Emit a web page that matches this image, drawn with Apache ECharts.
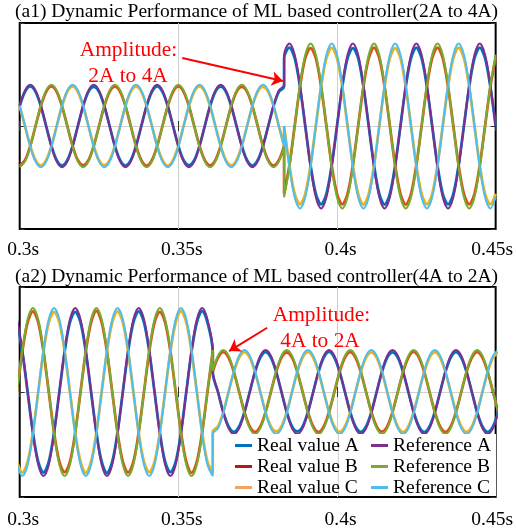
<!DOCTYPE html>
<html>
<head>
<meta charset="utf-8">
<script src="https://cdn.jsdelivr.net/npm/echarts@6/dist/echarts.min.js"></script>
<style>
html,body{margin:0;padding:0;background:#fff;}
#chart{width:516px;height:532px;}
</style>
</head>
<body>
<div id="chart"></div>
<script>
// ---------------- DATA ----------------
const xTickLabels = ['0.3s', '0.35s', '0.4s', '0.45s'];
const seriesNames = ['Real value A', 'Real value B', 'Real value C', 'Reference A', 'Reference B', 'Reference C'];

// Panel a1 (2A -> 4A): samples every 1/600 s starting at 0.3 s; step after sample 50
const topSampleStart = 0.3;
const topSampleStep = 1 / 600;
const topStepIndex = 50;

const topRefAPre = [1,1.73,2,1.73,1,0,-1,-1.73,-2,-1.73,-1,0, 1,1.73,2,1.73,1,0,-1,-1.73,-2,-1.73,-1,0, 1,1.73,2,1.73,1,0,-1,-1.73,-2,-1.73,-1,0, 1,1.73,2,1.73,1,0,-1,-1.73,-2,-1.73,-1,0, 1,1.73,2];
const topRefBPre = [-2,-1.73,-1,0,1,1.73,2,1.73,1,0,-1,-1.73, -2,-1.73,-1,0,1,1.73,2,1.73,1,0,-1,-1.73, -2,-1.73,-1,0,1,1.73,2,1.73,1,0,-1,-1.73, -2,-1.73,-1,0,1,1.73,2,1.73,1,0,-1,-1.73, -2,-1.73,-1];
const topRefCPre = [1,0,-1,-1.73,-2,-1.73,-1,0,1,1.73,2,1.73, 1,0,-1,-1.73,-2,-1.73,-1,0,1,1.73,2,1.73, 1,0,-1,-1.73,-2,-1.73,-1,0,1,1.73,2,1.73, 1,0,-1,-1.73,-2,-1.73,-1,0,1,1.73,2,1.73, 1,0,-1];
const topRefAPost = [3.46,4,3.46,2,0,-2,-3.46,-4,-3.46,-2,0,2, 3.46,4,3.46,2,0,-2,-3.46,-4,-3.46,-2,0,2, 3.46,4,3.46,2,0,-2,-3.46,-4,-3.46,-2,0,2, 3.46,4,3.46,2,0];
const topRefBPost = [-3.46,-2,0,2,3.46,4,3.46,2,0,-2,-3.46,-4, -3.46,-2,0,2,3.46,4,3.46,2,0,-2,-3.46,-4, -3.46,-2,0,2,3.46,4,3.46,2,0,-2,-3.46,-4, -3.46,-2,0,2,3.46];
const topRefCPost = [0,-2,-3.46,-4,-3.46,-2,0,2,3.46,4,3.46,2, 0,-2,-3.46,-4,-3.46,-2,0,2,3.46,4,3.46,2, 0,-2,-3.46,-4,-3.46,-2,0,2,3.46,4,3.46,2, 0,-2,-3.46,-4,-3.46];

const topRealAPre = [0.96,1.66,1.92,1.66,0.96,0,-0.96,-1.66,-1.92,-1.66,-0.96,0, 0.96,1.66,1.90,1.66,0.96,0,-0.96,-1.66,-1.92,-1.66,-0.96,0, 0.96,1.66,1.93,1.66,0.96,0,-0.96,-1.66,-1.90,-1.66,-0.96,0, 0.96,1.66,1.91,1.66,0.96,0,-0.96,-1.66,-1.92,-1.66,-0.96,0, 0.96,1.66,1.92];
const topRealBPre = [-1.92,-1.66,-0.96,0,0.96,1.66,1.92,1.66,0.96,0,-0.96,-1.66, -1.90,-1.66,-0.96,0,0.96,1.66,1.91,1.66,0.96,0,-0.96,-1.66, -1.93,-1.66,-0.96,0,0.96,1.66,1.92,1.66,0.96,0,-0.96,-1.66, -1.91,-1.66,-0.96,0,0.96,1.66,1.90,1.66,0.96,0,-0.96,-1.66, -1.92,-1.66,-0.96];
const topRealCPre = [0.96,0,-0.96,-1.66,-1.92,-1.66,-0.96,0,0.96,1.66,1.92,1.66, 0.96,0,-0.96,-1.66,-1.90,-1.66,-0.96,0,0.96,1.66,1.91,1.66, 0.96,0,-0.96,-1.66,-1.93,-1.66,-0.96,0,0.96,1.66,1.92,1.66, 0.96,0,-0.96,-1.66,-1.91,-1.66,-0.96,0,0.96,1.66,1.90,1.66, 0.96,0,-0.96];
const topRealAPost = [3.29,3.8,3.29,1.9,0,-1.9,-3.29,-3.8,-3.29,-1.9,0,1.9, 3.29,3.78,3.29,1.9,0,-1.9,-3.29,-3.82,-3.29,-1.9,0,1.9, 3.29,3.8,3.29,1.9,0,-1.9,-3.29,-3.8,-3.29,-1.9,0,1.9, 3.29,3.8,3.29,1.9,0];
const topRealBPost = [-3.29,-1.9,0,1.9,3.29,3.78,3.29,1.9,0,-1.9,-3.29,-3.8, -3.29,-1.9,0,1.9,3.29,3.8,3.29,1.9,0,-1.9,-3.29,-3.82, -3.29,-1.9,0,1.9,3.29,3.8,3.29,1.9,0,-1.9,-3.29,-3.8, -3.29,-1.9,0,1.9,3.29];
const topRealCPost = [0,-1.9,-3.29,-3.8,-3.29,-1.9,0,1.9,3.29,3.8,3.29,1.9, 0,-1.9,-3.29,-3.82,-3.29,-1.9,0,1.9,3.29,3.78,3.29,1.9, 0,-1.9,-3.29,-3.8,-3.29,-1.9,0,1.9,3.29,3.8,3.29,1.9, 0,-1.9,-3.29,-3.8,-3.29];

// Panel a2 (4A -> 2A): samples every 1/600 s starting half a step before 0.3 s; step after sample 37
const botSampleStart = 0.3 - 1 / 1200;
const botSampleStep = 1 / 600;
const botStepIndex = 37;

const botRefAPre = [3.46,2,0,-2,-3.46,-4,-3.46,-2,0,2,3.46,4, 3.46,2,0,-2,-3.46,-4,-3.46,-2,0,2,3.46,4, 3.46,2,0,-2,-3.46,-4,-3.46,-2,0,2,3.46,4, 3.46,2];
const botRefBPre = [0,2,3.46,4,3.46,2,0,-2,-3.46,-4,-3.46,-2, 0,2,3.46,4,3.46,2,0,-2,-3.46,-4,-3.46,-2, 0,2,3.46,4,3.46,2,0,-2,-3.46,-4,-3.46,-2, 0,2];
const botRefCPre = [-3.46,-4,-3.46,-2,0,2,3.46,4,3.46,2,0,-2, -3.46,-4,-3.46,-2,0,2,3.46,4,3.46,2,0,-2, -3.46,-4,-3.46,-2,0,2,3.46,4,3.46,2,0,-2, -3.46,-4];
const botRefAPost = [1,0,-1,-1.73,-2,-1.73,-1,0,1,1.73,2,1.73, 1,0,-1,-1.73,-2,-1.73,-1,0,1,1.73,2,1.73, 1,0,-1,-1.73,-2,-1.73,-1,0,1,1.73,2,1.73, 1,0,-1,-1.73,-2,-1.73,-1,0,1,1.73,2,1.73, 1,0,-1,-1.73,-2,-1.73,-1];
const botRefBPost = [1,1.73,2,1.73,1,0,-1,-1.73,-2,-1.73,-1,0, 1,1.73,2,1.73,1,0,-1,-1.73,-2,-1.73,-1,0, 1,1.73,2,1.73,1,0,-1,-1.73,-2,-1.73,-1,0, 1,1.73,2,1.73,1,0,-1,-1.73,-2,-1.73,-1,0, 1,1.73,2,1.73,1,0,-1];
const botRefCPost = [-2,-1.73,-1,0,1,1.73,2,1.73,1,0,-1,-1.73, -2,-1.73,-1,0,1,1.73,2,1.73,1,0,-1,-1.73, -2,-1.73,-1,0,1,1.73,2,1.73,1,0,-1,-1.73, -2,-1.73,-1,0,1,1.73,2,1.73,1,0,-1,-1.73, -2,-1.73,-1,0,1,1.73,2];

const botRealAPre = [3.32,1.92,0,-1.92,-3.32,-3.84,-3.32,-1.92,0,1.92,3.32,3.82, 3.32,1.92,0,-1.92,-3.32,-3.86,-3.32,-1.92,0,1.92,3.32,3.84, 3.32,1.92,0,-1.92,-3.32,-3.82,-3.32,-1.92,0,1.92,3.32,3.85, 3.32,1.92];
const botRealBPre = [0,1.92,3.32,3.84,3.32,1.92,0,-1.92,-3.32,-3.82,-3.32,-1.92, 0,1.92,3.32,3.86,3.32,1.92,0,-1.92,-3.32,-3.84,-3.32,-1.92, 0,1.92,3.32,3.82,3.32,1.92,0,-1.92,-3.32,-3.85,-3.32,-1.92, 0,1.92];
const botRealCPre = [-3.32,-3.84,-3.32,-1.92,0,1.92,3.32,3.82,3.32,1.92,0,-1.92, -3.32,-3.86,-3.32,-1.92,0,1.92,3.32,3.84,3.32,1.92,0,-1.92, -3.32,-3.82,-3.32,-1.92,0,1.92,3.32,3.85,3.32,1.92,0,-1.92, -3.32,-3.84];
const botRealAPost = [0.95,0,-0.95,-1.64,-1.9,-1.64,-0.95,0,0.95,1.64,1.9,1.64, 0.95,0,-0.95,-1.64,-1.88,-1.64,-0.95,0,0.95,1.64,1.91,1.64, 0.95,0,-0.95,-1.64,-1.9,-1.64,-0.95,0,0.95,1.64,1.89,1.64, 0.95,0,-0.95,-1.64,-1.91,-1.64,-0.95,0,0.95,1.64,1.9,1.64, 0.95,0,-0.95,-1.64,-1.9,-1.64,-0.95];
const botRealBPost = [0.95,1.64,1.9,1.64,0.95,0,-0.95,-1.64,-1.9,-1.64,-0.95,0, 0.95,1.64,1.88,1.64,0.95,0,-0.95,-1.64,-1.91,-1.64,-0.95,0, 0.95,1.64,1.9,1.64,0.95,0,-0.95,-1.64,-1.89,-1.64,-0.95,0, 0.95,1.64,1.91,1.64,0.95,0,-0.95,-1.64,-1.9,-1.64,-0.95,0, 0.95,1.64,1.9,1.64,0.95,0,-0.95];
const botRealCPost = [-1.9,-1.64,-0.95,0,0.95,1.64,1.9,1.64,0.95,0,-0.95,-1.64, -1.88,-1.64,-0.95,0,0.95,1.64,1.91,1.64,0.95,0,-0.95,-1.64, -1.9,-1.64,-0.95,0,0.95,1.64,1.89,1.64,0.95,0,-0.95,-1.64, -1.91,-1.64,-0.95,0,0.95,1.64,1.9,1.64,0.95,0,-0.95,-1.64, -1.9,-1.64,-0.95,0,0.95,1.64,1.9];

// ---------------- STYLE ----------------
const FONT = '"Liberation Serif", "Times New Roman", serif';
const colors = ['#0072BD', '#D95319', '#EDB120', '#7E2F8E', '#77AC30', '#4DBEEE'];
const legendColors = ['#0072BD', '#C0141B', '#F4A460', '#7E2F8E', '#77AC30', '#4DBEEE'];

function pairs(start, step, firstIndex, values) {
  return values.map((v, i) => [start + (firstIndex + i) * step, v]);
}
function joined(start, step, stepIndex, pre, post) {
  return pairs(start, step, 0, pre).concat(pairs(start, step, stepIndex, post));
}

const topSets = [
  [topRealAPre, topRealAPost], [topRealBPre, topRealBPost], [topRealCPre, topRealCPost],
  [topRefAPre, topRefAPost], [topRefBPre, topRefBPost], [topRefCPre, topRefCPost]
];
const botSets = [
  [botRealAPre, botRealAPost], [botRealBPre, botRealBPost], [botRealCPre, botRealCPost],
  [botRefAPre, botRefAPost], [botRefBPre, botRefBPost], [botRefCPre, botRefCPost]
];

const series = [];
function addPanel(sets, p, start, step, stepIndex, arrow) {
  sets.forEach((s, i) => {
    const obj = {
      type: 'line',
      name: seriesNames[i],
      xAxisIndex: 2 * p,
      yAxisIndex: 2 * p,
      data: joined(start, step, stepIndex, s[0], s[1]),
      showSymbol: false,
      smooth: 0.33,
      clip: true,
      animation: false,
      color: colors[i],
      lineStyle: { width: i < 3 ? 2.8 : 2, color: colors[i] },
      z: i < 3 ? 2 : 3
    };
    if (i === 5) {
      obj.markLine = {
        silent: true,
        animation: false,
        symbol: ['none', 'arrow'],
        symbolSize: 11,
        label: { show: false },
        lineStyle: { color: '#ff0000', width: 2, type: 'solid' },
        data: [[{ coord: arrow[0] }, { coord: arrow[1] }]]
      };
    }
    series.push(obj);
  });
}
addPanel(topSets, 0, topSampleStart, topSampleStep, topStepIndex, [[0.35124, 3.30], [0.38293, 2.18]]);
addPanel(botSets, 1, botSampleStart, botSampleStep, botStepIndex, [[0.37800, 3.06], [0.36601, 1.95]]);

const gridLine = { color: '#d0d0d0', width: 1 };
const tickStyle = { show: true, inside: true, length: 5, lineStyle: { color: '#333', width: 1 } };

function xAxes(g, margin) {
  return [
    {
      type: 'value', gridIndex: g, min: 0.3, max: 0.45, interval: 0.05,
      axisLine: { show: false }, axisTick: tickStyle,
      splitLine: { show: true, showMinLine: false, showMaxLine: false, lineStyle: gridLine },
      axisLabel: {
        show: true, margin: margin, color: '#000', fontFamily: FONT, fontSize: 19.5,
        formatter: function (v) {
          const i = Math.round((v - 0.3) / 0.05);
          const t = xTickLabels[i];
          return i === xTickLabels.length - 1 ? '{r|' + t + '}' : '{l|' + t + '}';
        },
        rich: {
          l: { fontFamily: FONT, fontSize: 19.5, color: '#000', padding: [0, 0, 0, 7] },
          r: { fontFamily: FONT, fontSize: 19.5, color: '#000', padding: [0, 7, 0, 0] }
        }
      }
    },
    {
      type: 'value', gridIndex: g, min: 0.3, max: 0.45, interval: 0.05, position: 'top',
      axisLine: { show: false }, axisTick: tickStyle, splitLine: { show: false }, axisLabel: { show: false }
    }
  ];
}
function yAxes(g) {
  return [
    {
      type: 'value', gridIndex: g, min: -5, max: 5, interval: 5,
      axisLine: { show: false }, axisTick: tickStyle, axisLabel: { show: false },
      splitLine: { show: true, showMinLine: false, showMaxLine: false, lineStyle: gridLine }
    },
    {
      type: 'value', gridIndex: g, min: -5, max: 5, interval: 5, position: 'right',
      axisLine: { show: false }, axisTick: tickStyle, axisLabel: { show: false }, splitLine: { show: false }
    }
  ];
}

function txt(text, x, y, size, color, align) {
  return {
    type: 'text', x: x, y: y, z: 30,
    style: {
      text: text, font: size + 'px ' + FONT, fill: color,
      textAlign: align || 'left', textVerticalAlign: 'middle', align: align || 'left', verticalAlign: 'middle'
    }
  };
}
function legendItems(names, offset) {
  return names.map((n, i) => ({ name: n, itemStyle: { color: legendColors[offset + i] } }));
}

const option = {
  backgroundColor: '#fff',
  animation: false,
  grid: [
    { left: 19.7, right: 18.4, top: 23, height: 206, show: true, borderColor: '#000', borderWidth: 2, backgroundColor: 'transparent' },
    { left: 19.7, right: 18.4, top: 287, height: 210, show: true, borderColor: '#000', borderWidth: 2, backgroundColor: 'transparent' }
  ],
  xAxis: xAxes(0, 11).concat(xAxes(1, 13)),
  yAxis: yAxes(0).concat(yAxes(1)),
  legend: [
    {
      data: legendItems(seriesNames.slice(0, 3), 0), orient: 'vertical', left: 235, top: 435, padding: 0, itemGap: 0,
      itemWidth: 17, itemHeight: 3, icon: 'rect', z: 40,
      textStyle: { fontFamily: FONT, fontSize: 19.5, color: '#000', lineHeight: 21 }
    },
    {
      data: legendItems(seriesNames.slice(3, 6), 3), orient: 'vertical', left: 371, top: 435, padding: 0, itemGap: 0,
      itemWidth: 17, itemHeight: 3, icon: 'rect', z: 40,
      textStyle: { fontFamily: FONT, fontSize: 19.5, color: '#000', lineHeight: 21 }
    }
  ],
  graphic: [
    { type: 'rect', z: 20, shape: { x: 231, y: 434, width: 265, height: 62 }, style: { fill: '#fff' } },
    { type: 'line', z: 21, shape: { x1: 338.3, y1: 434, x2: 338.3, y2: 496 }, style: { stroke: '#d0d0d0', lineWidth: 1 } },
    txt('(a1) Dynamic Performance of ML based controller(2A to 4A)', 15, 12, 19.5, '#000'),
    txt('(a2) Dynamic Performance of ML based controller(4A to 2A)', 15, 277, 19.5, '#000'),
    txt('Amplitude:', 128.5, 50, 21.4, '#ff0000', 'center'),
    txt('2A to 4A', 128, 76.5, 21.4, '#ff0000', 'center'),
    txt('Amplitude:', 321.5, 315, 21.4, '#ff0000', 'center'),
    txt('4A to 2A', 320, 341, 21.4, '#ff0000', 'center')
  ],
  series: series
};

const chart = echarts.init(document.getElementById('chart'), null, { renderer: 'canvas' });
chart.setOption(option);
</script>
</body>
</html>
